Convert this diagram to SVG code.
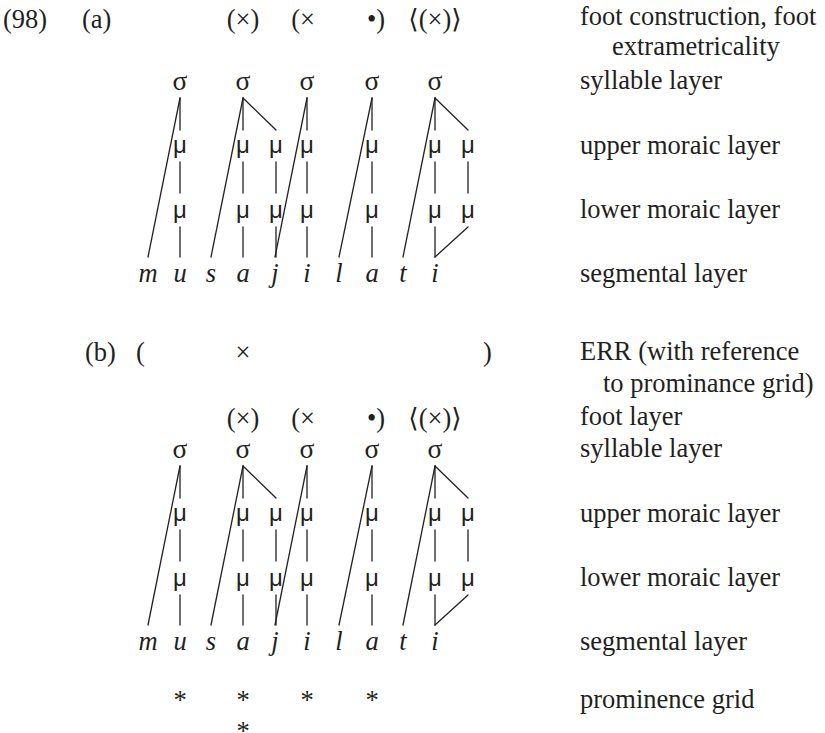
<svg xmlns="http://www.w3.org/2000/svg" width="825" height="733" viewBox="0 0 825 733">
<style>
text{font-family:"Liberation Serif","DejaVu Serif",serif;font-size:26.5px;fill:#231f20}
.m{text-anchor:middle}
.sg{font-size:27.5px}
.mu{font-family:"Liberation Sans","DejaVu Sans",sans-serif;font-size:24px}
.seg{font-style:italic}
line{stroke:#231f20;stroke-width:1.3;stroke-linecap:round}
</style>
<defs>
<g id="tree">
<line x1="180" y1="98" x2="180" y2="130"/>
<line x1="243" y1="98" x2="243" y2="130"/>
<line x1="307" y1="98" x2="307" y2="130"/>
<line x1="372" y1="98" x2="372" y2="130"/>
<line x1="435" y1="98" x2="435" y2="130"/>
<line x1="243" y1="98" x2="276" y2="130"/>
<line x1="435" y1="98" x2="468" y2="130"/>
<line x1="180" y1="98" x2="148" y2="257"/>
<line x1="243" y1="98" x2="211" y2="257"/>
<line x1="307" y1="98" x2="275" y2="257"/>
<line x1="372" y1="98" x2="339" y2="257"/>
<line x1="435" y1="98" x2="403" y2="257"/>
<line x1="180" y1="162" x2="180" y2="193"/>
<line x1="243" y1="162" x2="243" y2="193"/>
<line x1="276" y1="162" x2="276" y2="193"/>
<line x1="307" y1="162" x2="307" y2="193"/>
<line x1="372" y1="162" x2="372" y2="193"/>
<line x1="435" y1="162" x2="435" y2="193"/>
<line x1="468" y1="162" x2="468" y2="193"/>
<line x1="180" y1="227" x2="180" y2="257"/>
<line x1="243" y1="227" x2="243" y2="257"/>
<line x1="276" y1="227" x2="276" y2="257"/>
<line x1="307" y1="227" x2="307" y2="257"/>
<line x1="372" y1="227" x2="372" y2="257"/>
<line x1="435" y1="227" x2="435" y2="257"/>
<line x1="468" y1="227" x2="435" y2="257"/>
</g>
<g id="nodes">
<text x="180" y="90" class="sg m">σ</text>
<text x="243" y="90" class="sg m">σ</text>
<text x="307" y="90" class="sg m">σ</text>
<text x="372" y="90" class="sg m">σ</text>
<text x="435" y="90" class="sg m">σ</text>
<text x="180" y="153" class="mu m">μ</text>
<text x="243" y="153" class="mu m">μ</text>
<text x="276" y="153" class="mu m">μ</text>
<text x="307" y="153" class="mu m">μ</text>
<text x="372" y="153" class="mu m">μ</text>
<text x="435" y="153" class="mu m">μ</text>
<text x="468" y="153" class="mu m">μ</text>
<text x="180" y="218" class="mu m">μ</text>
<text x="243" y="218" class="mu m">μ</text>
<text x="276" y="218" class="mu m">μ</text>
<text x="307" y="218" class="mu m">μ</text>
<text x="372" y="218" class="mu m">μ</text>
<text x="435" y="218" class="mu m">μ</text>
<text x="468" y="218" class="mu m">μ</text>
<text x="148" y="282" class="seg m">m</text>
<text x="180" y="282" class="seg m">u</text>
<text x="211" y="282" class="seg m">s</text>
<text x="243" y="282" class="seg m">a</text>
<text x="275" y="282" class="seg m">j</text>
<text x="307" y="282" class="seg m">i</text>
<text x="339" y="282" class="seg m">l</text>
<text x="372" y="282" class="seg m">a</text>
<text x="403" y="282" class="seg m">t</text>
<text x="435" y="282" class="seg m">i</text>
</g>
<g id="feet">
<text x="243" class="m">(×)</text>
<text x="315" style="text-anchor:end">(×</text>
<text x="367">•)</text>
<text x="435" class="m">⟨(×)⟩</text>
</g>
</defs>
<g id="connectors">
<use href="#tree"/>
<use href="#tree" y="368"/>
</g>
<g id="part-a">
<text x="3" y="28">(98)</text>
<text x="82" y="28">(a)</text>
<use href="#feet" y="28"/>
<use href="#nodes"/>
</g>
<g id="labels-a">
<text x="580" y="25">foot construction, foot</text>
<text x="612" y="55">extrametricality</text>
<text x="580" y="89">syllable layer</text>
<text x="580" y="154">upper moraic layer</text>
<text x="580" y="218">lower moraic layer</text>
<text x="580" y="282">segmental layer</text>
</g>
<g id="part-b">
<text x="85" y="361">(b)</text>
<text x="136" y="361">(</text>
<text x="243" y="361" class="m">×</text>
<text x="483" y="361">)</text>
<use href="#feet" y="427"/>
<use href="#nodes" y="368"/>
<g id="grid">
<text x="180" y="709" class="m">*</text>
<text x="243" y="709" class="m">*</text>
<text x="307" y="709" class="m">*</text>
<text x="372" y="709" class="m">*</text>
<text x="243" y="740" class="m">*</text>
</g>
</g>
<g id="labels-b">
<text x="580" y="360">ERR (with reference</text>
<text x="603" y="392">to prominance grid)</text>
<text x="580" y="425">foot layer</text>
<text x="580" y="457">syllable layer</text>
<text x="580" y="522">upper moraic layer</text>
<text x="580" y="586">lower moraic layer</text>
<text x="580" y="650">segmental layer</text>
<text x="580" y="708">prominence grid</text>
</g>
</svg>
